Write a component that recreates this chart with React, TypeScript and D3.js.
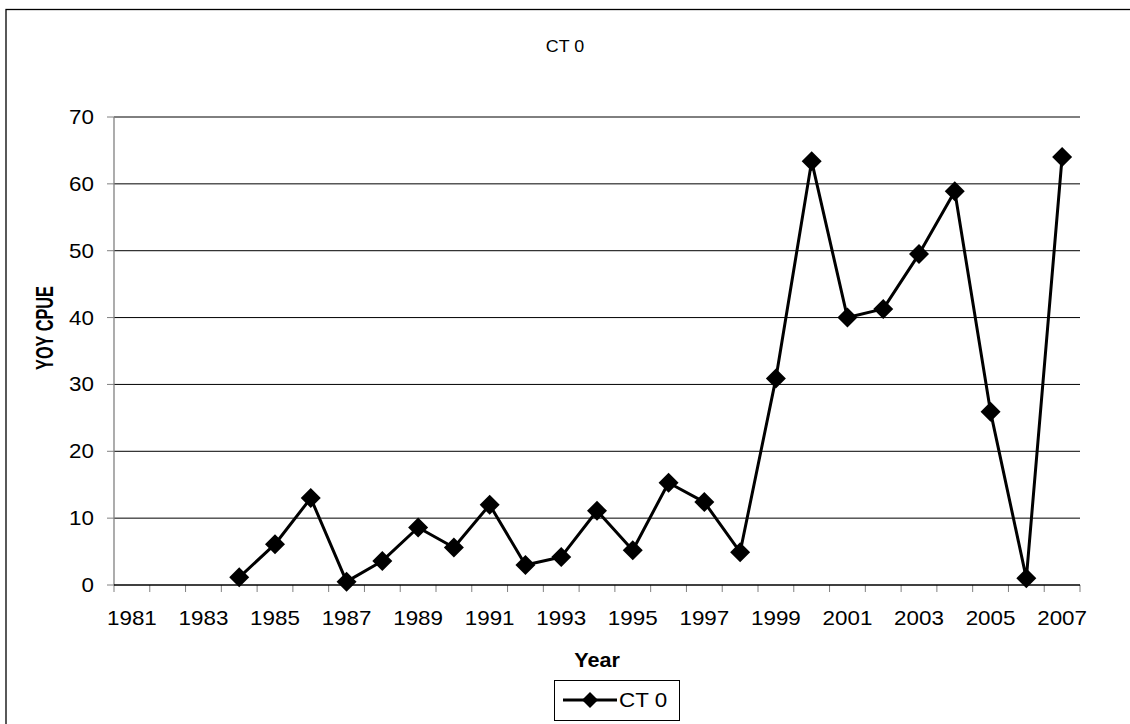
import React from "react";
import * as d3 from "d3";

const years: number[] = d3.range(1981, 2008);
const values: (number | null)[] = [
  null, null, null,
  1.15, 6.1, 13.0, 0.5, 3.6, 8.6, 5.6, 12.0, 3.0, 4.2, 11.1, 5.2, 15.3, 12.4, 4.9,
  30.9, 63.4, 40.0, 41.3, 49.5, 58.9, 25.9, 1.0, 64.0,
];
const yTicks: number[] = [0, 10, 20, 30, 40, 50, 60, 70];
const tickYears: number[] = years.filter((y) => y % 2 === 1);
const seriesName = "CT 0";
const title = "CT 0";
const xTitle = "Year";
const yTitle = "YOY CPUE";

const W = 1130;
const H = 724;
const left = 114;
const right = 1080;
const top = 117;
const bottom = 585;
const font = "'Liberation Sans', Arial, sans-serif";
const SX = 1.12;

function diamond(cx: number, cy: number, r: number) {
  return `M${cx},${cy - r}L${cx + r},${cy}L${cx},${cy + r}L${cx - r},${cy}Z`;
}

export default function App() {
  const x = d3.scaleBand<number>().domain(years).range([left, right]).padding(0);
  const y = d3.scaleLinear().domain([0, 70]).range([bottom, top]);
  const cx = (yr: number) => (x(yr) as number) + x.bandwidth() / 2;
  const pts = years
    .map((yr, i) => ({ yr, v: values[i] }))
    .filter((d) => d.v !== null) as { yr: number; v: number }[];
  const line = d3
    .line<{ yr: number; v: number }>()
    .x((d) => cx(d.yr))
    .y((d) => y(d.v));
  const boundaries = d3.range(0, years.length + 1).map((i) => left + i * x.bandwidth());

  return (
    <svg
      width={W}
      height={H}
      style={{ position: "absolute", left: 0, top: 0, display: "block" }}
      fontFamily={font}
    >
      <rect x={0} y={0} width={W} height={H} fill="#fff" />
      <rect x={6} y={9.5} width={1130} height={730} fill="none" stroke="#000" strokeWidth={1.3} />
      <text transform={`translate(565,52) scale(1.05,1)`} textAnchor="middle" fontSize={17} fill="#000">
        {title}
      </text>
      {yTicks.map((t) => (
        <g key={t}>
          {t > 0 && (
            <line x1={left} x2={right} y1={y(t)} y2={y(t)} stroke="#000" strokeWidth={1} />
          )}
          <line x1={left - 7} x2={left} y1={y(t)} y2={y(t)} stroke="#808080" strokeWidth={1} />
          <text
            transform={`translate(${left - 20},${y(t) + 7}) scale(${SX},1)`}
            textAnchor="end"
            fontSize={20}
            fill="#000"
          >
            {t}
          </text>
        </g>
      ))}
      <line x1={left} x2={left} y1={top} y2={bottom} stroke="#808080" strokeWidth={1.3} />
      {boundaries.map((b, i) => (
        <line key={i} x1={b} x2={b} y1={bottom} y2={bottom + 7} stroke="#808080" strokeWidth={1} />
      ))}
      <line x1={left} x2={right} y1={bottom} y2={bottom} stroke="#000" strokeWidth={1.3} />
      {tickYears.map((yr) => (
        <text
          key={yr}
          transform={`translate(${cx(yr)},${bottom + 40}) scale(${SX},1)`}
          textAnchor="middle"
          fontSize={20}
          fill="#000"
        >
          {yr}
        </text>
      ))}
      <text
        transform={`translate(${(left + right) / 2},667) scale(1.08,1)`}
        textAnchor="middle"
        fontSize={20}
        fontWeight="bold"
        fill="#000"
      >
        {xTitle}
      </text>
      <text
        transform={`translate(53,328) rotate(-90)`}
        textAnchor="middle"
        fontSize={24}
        fontWeight="bold"
        fill="#000"
        textLength={84}
        lengthAdjust="spacingAndGlyphs"
      >
        {yTitle}
      </text>
      <path d={line(pts) || ""} fill="none" stroke="#000" strokeWidth={3} strokeLinejoin="round" />
      {pts.map((d) => (
        <path key={d.yr} d={diamond(cx(d.yr), y(d.v), 10)} fill="#000" />
      ))}
      <rect x={554.5} y={680.5} width={125} height={40} fill="#fff" stroke="#000" strokeWidth={1} />
      <line x1={563} x2={617} y1={700} y2={700} stroke="#000" strokeWidth={3} />
      <path d={diamond(590, 700, 8)} fill="#000" />
      <text transform={`translate(619,707) scale(${SX},1)`} fontSize={20} fill="#000">
        {seriesName}
      </text>
    </svg>
  );
}
